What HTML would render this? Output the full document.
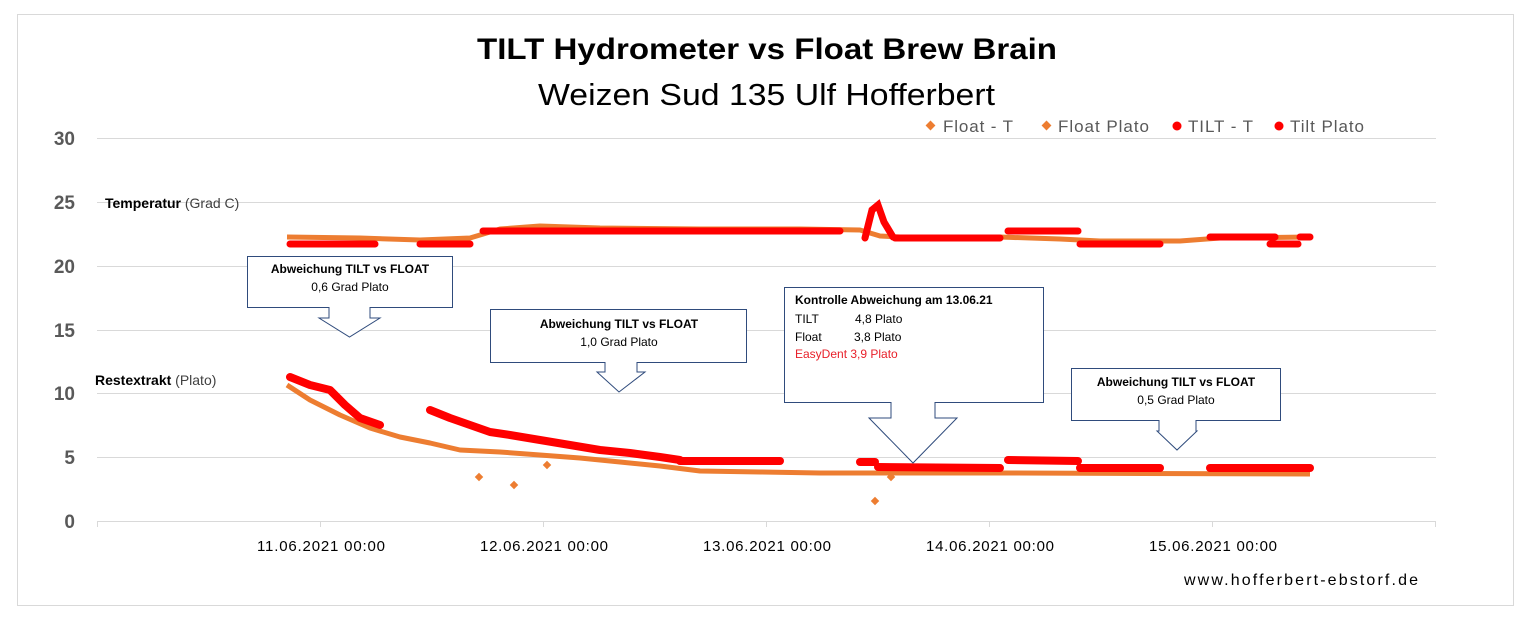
<!DOCTYPE html>
<html><head><meta charset="utf-8"><style>
body{margin:0;background:#fff;}
svg{display:block;font-family:"Liberation Sans",sans-serif;}
</style></head><body>
<svg width="1526" height="622" viewBox="0 0 1526 622" xmlns="http://www.w3.org/2000/svg">
<rect x="17.5" y="14.5" width="1496" height="591" fill="#fff" stroke="#d9d9d9"/>
<text x="477" y="59" textLength="580" lengthAdjust="spacingAndGlyphs" font-size="30" font-weight="bold" fill="#000">TILT Hydrometer  vs  Float  Brew Brain</text>
<text x="538" y="105" textLength="457" lengthAdjust="spacingAndGlyphs" font-size="31" fill="#000">Weizen Sud 135 Ulf Hofferbert</text>
<g stroke="#d9d9d9" stroke-width="1">
<line x1="97" y1="138.5" x2="1436" y2="138.5"/><line x1="97" y1="202.5" x2="1436" y2="202.5"/>
<line x1="97" y1="266.5" x2="1436" y2="266.5"/><line x1="97" y1="330.5" x2="1436" y2="330.5"/>
<line x1="97" y1="393.5" x2="1436" y2="393.5"/><line x1="97" y1="457.5" x2="1436" y2="457.5"/>
<line x1="97" y1="521.5" x2="1436" y2="521.5"/>
<line x1="97.5" y1="521" x2="97.5" y2="527"/><line x1="320.5" y1="521" x2="320.5" y2="527"/><line x1="543.5" y1="521" x2="543.5" y2="527"/><line x1="766.5" y1="521" x2="766.5" y2="527"/><line x1="989.5" y1="521" x2="989.5" y2="527"/><line x1="1212.5" y1="521" x2="1212.5" y2="527"/><line x1="1435.5" y1="521" x2="1435.5" y2="527"/>
</g>
<g font-size="19" fill="#595959" font-weight="bold" text-anchor="end">
<text x="75" y="145">30</text><text x="75" y="209">25</text><text x="75" y="273">20</text><text x="75" y="337">15</text><text x="75" y="400">10</text><text x="75" y="464">5</text><text x="75" y="528">0</text>
</g>
<g font-size="15" fill="#000">
<text x="257" y="551" textLength="128">11.06.2021 00:00</text><text x="480" y="551" textLength="128">12.06.2021 00:00</text><text x="703" y="551" textLength="128">13.06.2021 00:00</text><text x="926" y="551" textLength="128">14.06.2021 00:00</text><text x="1149" y="551" textLength="128">15.06.2021 00:00</text>
</g>
<text x="1184" y="585" textLength="234" font-size="16" fill="#000">www.hofferbert-ebstorf.de</text>
<g font-size="17" fill="#595959">
<rect x="927" y="122" width="7" height="7" fill="#ed7d31" transform="rotate(45 930.5 125.5)"/><text x="943" y="132" textLength="70">Float - T</text>
<rect x="1043" y="122" width="7" height="7" fill="#ed7d31" transform="rotate(45 1046.5 125.5)"/><text x="1058" y="132" textLength="91">Float Plato</text>
<circle cx="1177" cy="126" r="4.5" fill="#f00"/><text x="1188" y="132" textLength="65">TILT - T</text>
<circle cx="1279" cy="126" r="4.5" fill="#f00"/><text x="1290" y="132" textLength="74">Tilt Plato</text>
</g>
<text x="105" y="208" font-size="14" fill="#000"><tspan font-weight="bold">Temperatur</tspan> <tspan fill="#404040">(Grad C)</tspan></text>
<text x="95" y="385" font-size="14" fill="#000"><tspan font-weight="bold">Restextrakt</tspan> <tspan fill="#404040">(Plato)</tspan></text>
<!-- temperature -->
<polyline fill="none" stroke="#ed7d31" stroke-width="5" stroke-linejoin="round" points="287,237 360,238 420,240 470,238 500,229 540,226 600,228 700,229 800,229 860,230 880,236 900,237 1000,237 1060,239 1100,241 1180,241 1220,238 1310,237"/>
<g stroke="#f00" stroke-width="7" stroke-linecap="round" fill="none">
<line x1="290" y1="244" x2="375" y2="244"/><line x1="420" y1="244" x2="470" y2="244"/>
<line x1="483" y1="231" x2="840" y2="231"/>
<polyline points="865,238 872,210 878,205 884,222 893,237"/>
<line x1="895" y1="238" x2="1000" y2="238"/><line x1="1008" y1="231" x2="1078" y2="231"/>
<line x1="1080" y1="244" x2="1160" y2="244"/><line x1="1210" y1="237" x2="1275" y2="237"/>
<line x1="1270" y1="244" x2="1298" y2="244"/><line x1="1300" y1="237" x2="1310" y2="237"/>
</g>
<!-- plato -->
<polyline fill="none" stroke="#ed7d31" stroke-width="5" stroke-linejoin="round" points="287,385 310,400 340,415 370,428 400,437 430,443 460,450 500,452 540,455 580,458 620,462 660,466 700,471 760,472 820,473 880,473 1000,473 1310,474"/>
<g fill="#ed7d31"><rect x="476" y="474" width="6" height="6" transform="rotate(45 479 477)"/><rect x="511" y="482" width="6" height="6" transform="rotate(45 514 485)"/><rect x="872" y="498" width="6" height="6" transform="rotate(45 875 501)"/><rect x="888" y="474" width="6" height="6" transform="rotate(45 891 477)"/><rect x="544" y="462" width="6" height="6" transform="rotate(45 547 465)"/></g>
<g stroke="#f00" stroke-width="8" stroke-linecap="round" stroke-linejoin="round" fill="none">
<polyline points="290,377 310,385 330,390 345,405 360,418 380,425"/>
<polyline points="430,410 450,418 470,425 490,432 510,435 540,440 570,445 600,450 630,453 660,457 680,460"/>
<line x1="680" y1="461" x2="780" y2="461"/><line x1="860" y1="462" x2="875" y2="462"/>
<line x1="878" y1="467" x2="1000" y2="468"/><line x1="1008" y1="460" x2="1078" y2="461"/>
<line x1="1080" y1="468" x2="1160" y2="468"/><line x1="1210" y1="468" x2="1310" y2="468"/>
</g>
<!-- callouts -->
<g fill="#fff" stroke="#2f4b7c" stroke-width="1">
<path d="M247.5,256.5 H452.5 V307.5 H370 V318 H380 L349.5,337 L319,318 H329 V307.5 H247.5 Z"/>
<path d="M490.5,309.5 H746.5 V362.5 H637 V372 H645 L619,392 L597,372 H605 V362.5 H490.5 Z"/>
<path d="M784.5,287.5 H1043.5 V402.5 H935 V418 H957 L913,463 L869,418 H891 V402.5 H784.5 Z"/>
<path d="M1071.5,368.5 H1280.5 V420.5 H1196 V431 H1197 L1177,450 L1157,431 H1159 V420.5 H1071.5 Z"/>
</g>
<g font-size="12" fill="#000" text-anchor="middle">
<text x="350" y="273" font-weight="bold">Abweichung TILT vs FLOAT</text><text x="350" y="291">0,6 Grad Plato</text>
<text x="619" y="328" font-weight="bold">Abweichung TILT vs FLOAT</text><text x="619" y="346">1,0 Grad Plato</text>
<text x="1176" y="386" font-weight="bold">Abweichung TILT vs FLOAT</text><text x="1176" y="404">0,5 Grad Plato</text>
</g>
<g font-size="12" fill="#000">
<text x="795" y="304" font-weight="bold">Kontrolle Abweichung am 13.06.21</text>
<text x="795" y="323">TILT</text><text x="855" y="323">4,8 Plato</text>
<text x="795" y="341">Float</text><text x="854" y="341">3,8 Plato</text>
<text x="795" y="358" fill="#e8202a">EasyDent 3,9 Plato</text>
</g>
</svg>
</body></html>
